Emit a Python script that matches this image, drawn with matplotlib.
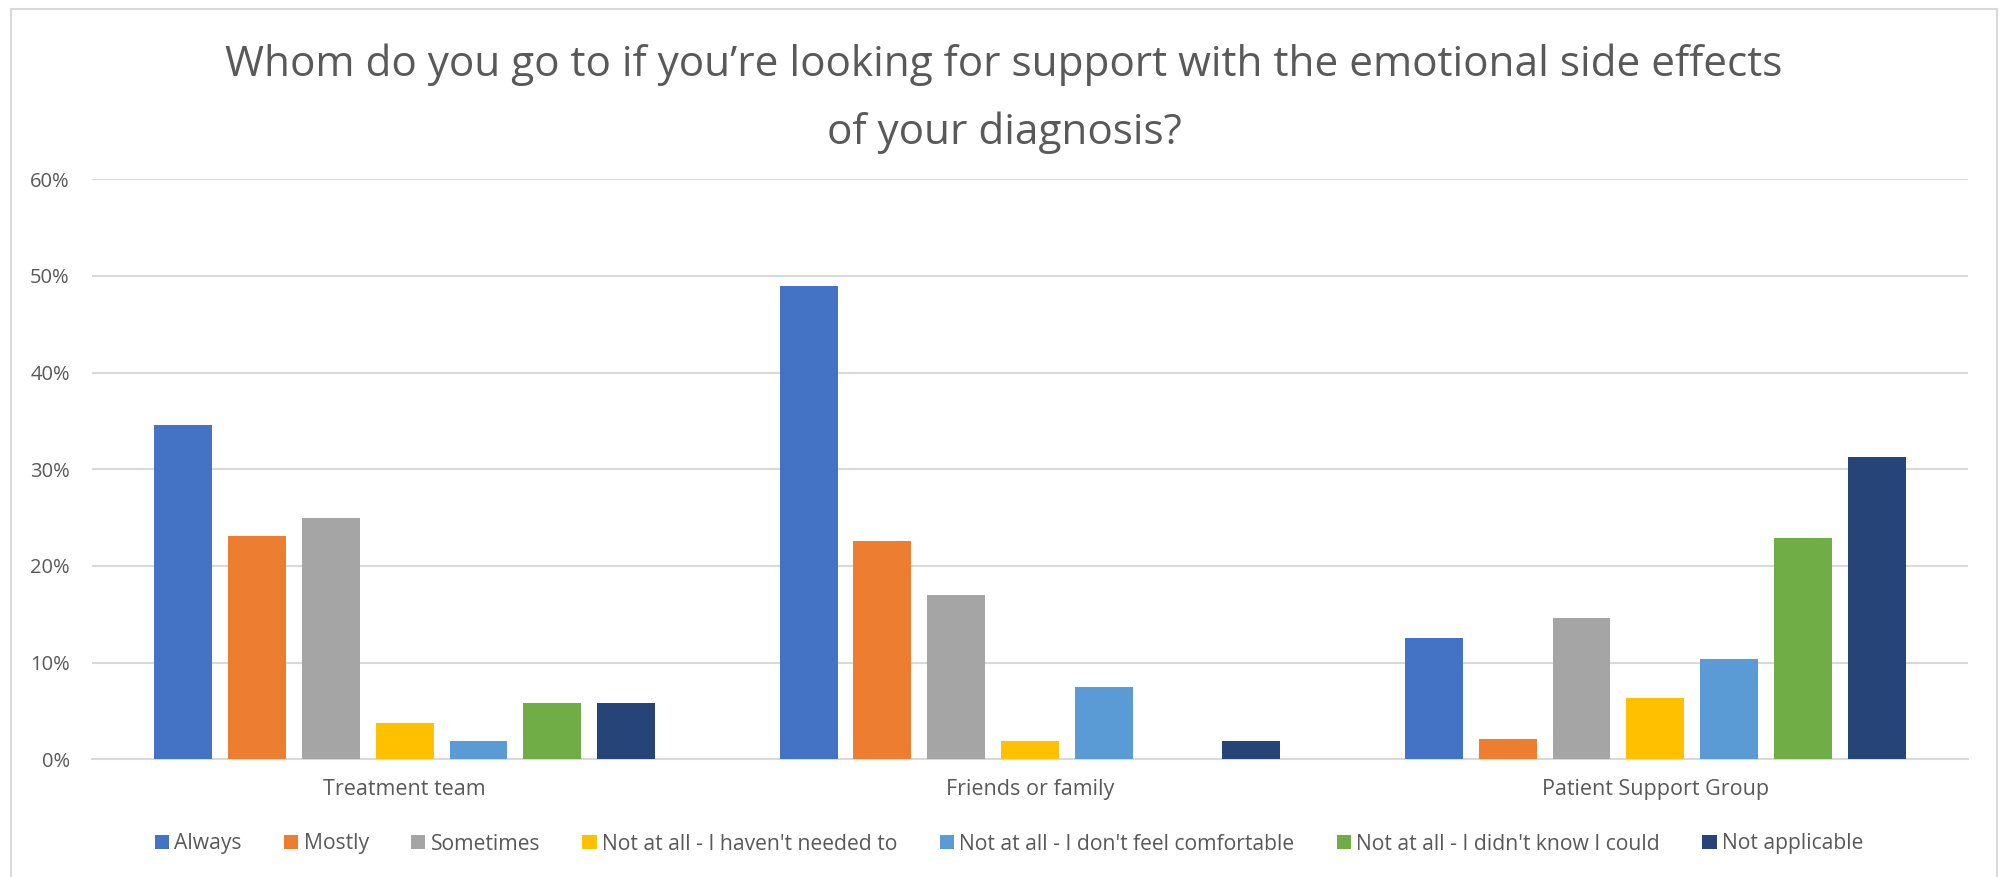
import matplotlib
matplotlib.use("Agg")
import matplotlib.pyplot as plt
from matplotlib.patches import Rectangle
from matplotlib.ticker import PercentFormatter
import numpy as np

plt.rcParams['font.family'] = ['Open Sans', 'DejaVu Sans']

# Survey data
categories = ["Treatment team", "Friends or family", "Patient Support Group"]
series_names = [
    "Always",
    "Mostly",
    "Sometimes",
    "Not at all - I haven't needed to",
    "Not at all - I don't feel comfortable",
    "Not at all - I didn't know I could",
    "Not applicable",
]
always = [0.346, 0.490, 0.125]
mostly = [0.231, 0.226, 0.021]
sometimes = [0.250, 0.170, 0.146]
not_needed = [0.038, 0.019, 0.063]
not_comfortable = [0.019, 0.075, 0.104]
didnt_know = [0.058, 0.000, 0.229]
not_applicable = [0.058, 0.019, 0.313]
series_values = [always, mostly, sometimes, not_needed,
                 not_comfortable, didnt_know, not_applicable]
colors = ["#4472C4", "#ED7D31", "#A5A5A5", "#FFC000",
          "#5B9BD5", "#70AD47", "#264478"]
y_ticks = [0.0, 0.1, 0.2, 0.3, 0.4, 0.5, 0.6]

TEXT = "#595959"
GRID = "#D9D9D9"

W, H = 2001, 877
fig = plt.figure(figsize=(W / 100, H / 100), dpi=100)

# chart frame (bottom edge runs off the canvas)
fig.patches.append(Rectangle((11 / W, -0.05), (1997 - 11) / W, (H - 9) / H + 0.05,
                             transform=fig.transFigure, fill=False,
                             edgecolor=GRID, linewidth=1.5))

left, right = 92 / W, 1968 / W
bottom, top = (H - 759.3) / H, (H - 179.3) / H
ax = fig.add_axes([left, bottom, right - left, top - bottom])

x = np.arange(len(categories))
bar_w = 0.0925
pitch = 0.118
for i, (name, vals, col) in enumerate(zip(series_names, series_values, colors)):
    ax.bar(x + (i - 3) * pitch, vals, width=bar_w, color=col, label=name,
           zorder=3, linewidth=0)

ax.set_xlim(-0.5, len(categories) - 0.5)
ax.set_ylim(0, 0.6)
ax.set_yticks(y_ticks)
ax.yaxis.set_major_formatter(PercentFormatter(1.0, decimals=0))
ax.set_xticks(x)
ax.set_xticklabels(categories)

ax.grid(axis='y', color=GRID, linewidth=1.5, zorder=0)
ax.set_axisbelow(True)
for s in ["top", "right", "left"]:
    ax.spines[s].set_visible(False)
ax.spines["bottom"].set_color(GRID)
ax.spines["bottom"].set_linewidth(1.5)
ax.spines["bottom"].set_zorder(2)

ax.tick_params(axis='y', length=0, pad=16, labelsize=14.5, labelcolor=TEXT)
ax.tick_params(axis='x', length=0, pad=14.5, labelsize=15.5, labelcolor=TEXT)

fig.text(1004 / W, (H - 76) / H, "Whom do you go to if you\u2019re looking for support with the emotional side effects",
         ha='center', va='baseline', fontsize=30.4, color=TEXT)
fig.text(1004 / W, (H - 144) / H, "of your diagnosis?",
         ha='center', va='baseline', fontsize=30.4, color=TEXT)

fig.legend(loc='center', bbox_to_anchor=(1009 / W, (H - 844) / H), ncol=7,
           frameon=False, fontsize=15.2, labelcolor=TEXT,
           handlelength=0.68, handleheight=0.68, handletextpad=0.25,
           columnspacing=2.0, borderpad=0, borderaxespad=0)

fig.savefig("out.png", dpi=100, facecolor="white")
